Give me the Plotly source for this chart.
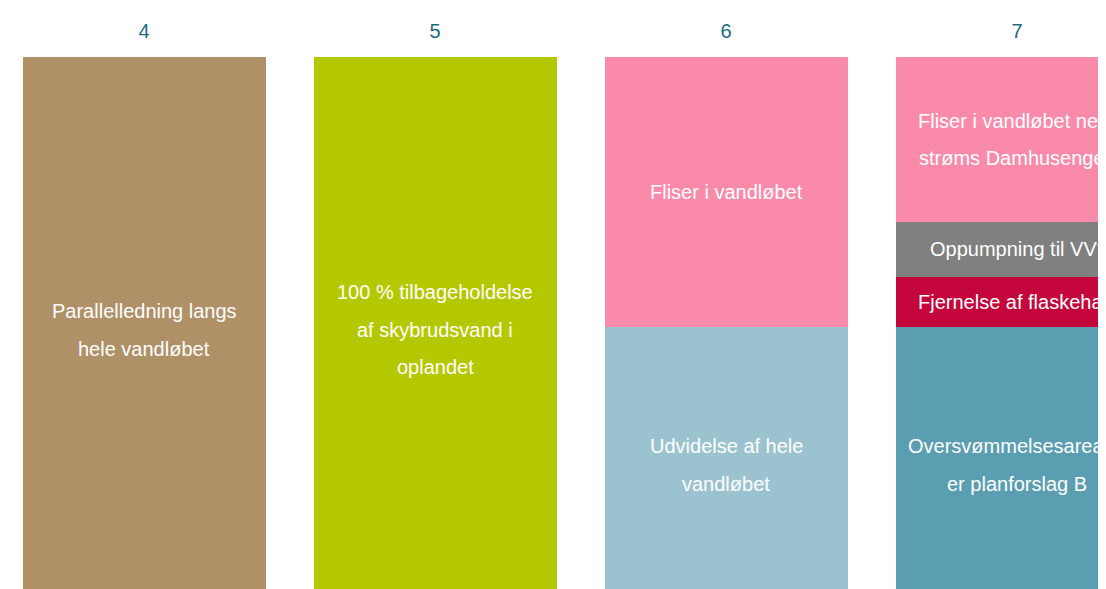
import plotly.graph_objects as go

# ---- data ----
categories = [4, 5, 6, 7]
tick_labels = ["4", "5", "6", "7"]

# segments stacked bottom -> top for each category
bar4_labels = ["Parallelledning langs<br>hele vandløbet"]
bar4_values = [100]

bar5_labels = ["100 % tilbageholdelse<br>af skybrudsvand i<br>oplandet"]
bar5_values = [100]

bar6_labels = ["Udvidelse af hele<br>vandløbet", "Fliser i vandløbet"]
bar6_values = [50.5, 49.5]

bar7_labels = ["Oversvømmelsesarealer<br>er planforslag B", "Fjernelse af flaskehals",
               "Oppumpning til VV*", "Fliser i vandløbet ned-<br>strøms Damhusengen"]
bar7_values = [50.5, 9.2, 10.1, 30.2]

# ---- styles ----
colors = {
    "Parallelledning langs<br>hele vandløbet": "#b09167",
    "100 % tilbageholdelse<br>af skybrudsvand i<br>oplandet": "#b4c800",
    "Udvidelse af hele<br>vandløbet": "#9bc3cf",
    "Fliser i vandløbet": "#fa8aaa",
    "Oversvømmelsesarealer<br>er planforslag B": "#5b9eb2",
    "Fjernelse af flaskehals": "#c4063c",
    "Oppumpning til VV*": "#808080",
    "Fliser i vandløbet ned-<br>strøms Damhusengen": "#fa8aaa",
}

FONT = "Liberation Sans, Arial, sans-serif"
LINE_GAP = 37.5
BAR_WIDTH = 0.835

fig = go.Figure()
annotations = []

bars = [
    (categories[0], bar4_labels, bar4_values),
    (categories[1], bar5_labels, bar5_values),
    (categories[2], bar6_labels, bar6_values),
    (categories[3], bar7_labels, bar7_values),
]

for cat, labels, values in bars:
    base = 0
    for lab, val in zip(labels, values):
        fig.add_trace(go.Bar(
            x=[cat], y=[val], base=[base], width=BAR_WIDTH,
            marker=dict(color=colors[lab], line=dict(width=0)),
            showlegend=False, hoverinfo="skip",
        ))
        mid = base + val / 2
        lines = lab.split("<br>")
        n = len(lines)
        for i, ln in enumerate(lines):
            annotations.append(dict(
                x=cat, y=mid, xref="x", yref="y", text=ln, showarrow=False,
                yshift=((n - 1) / 2 - i) * LINE_GAP,
                font=dict(family=FONT, size=20, color="white"),
                xanchor="center", yanchor="middle",
            ))
        base += val

fig.update_layout(
    width=1106, height=581,
    margin=dict(l=0, r=0, t=49, b=0, autoexpand=False),
    paper_bgcolor="white", plot_bgcolor="white",
    barmode="overlay", bargap=0,
    annotations=annotations,
    hovermode=False,
    xaxis=dict(
        range=[3.5326, 7.3333], side="top",
        tickvals=categories, ticktext=tick_labels,
        ticks="outside", ticklen=10, tickcolor="rgba(0,0,0,0)",
        tickfont=dict(family=FONT, size=20, color="#1b6a82"),
        showgrid=False, zeroline=False, showline=False, fixedrange=True,
    ),
    yaxis=dict(
        range=[2.56, 100], visible=False, showgrid=False, zeroline=False,
        fixedrange=True,
    ),
)

fig.write_html("out.html")
